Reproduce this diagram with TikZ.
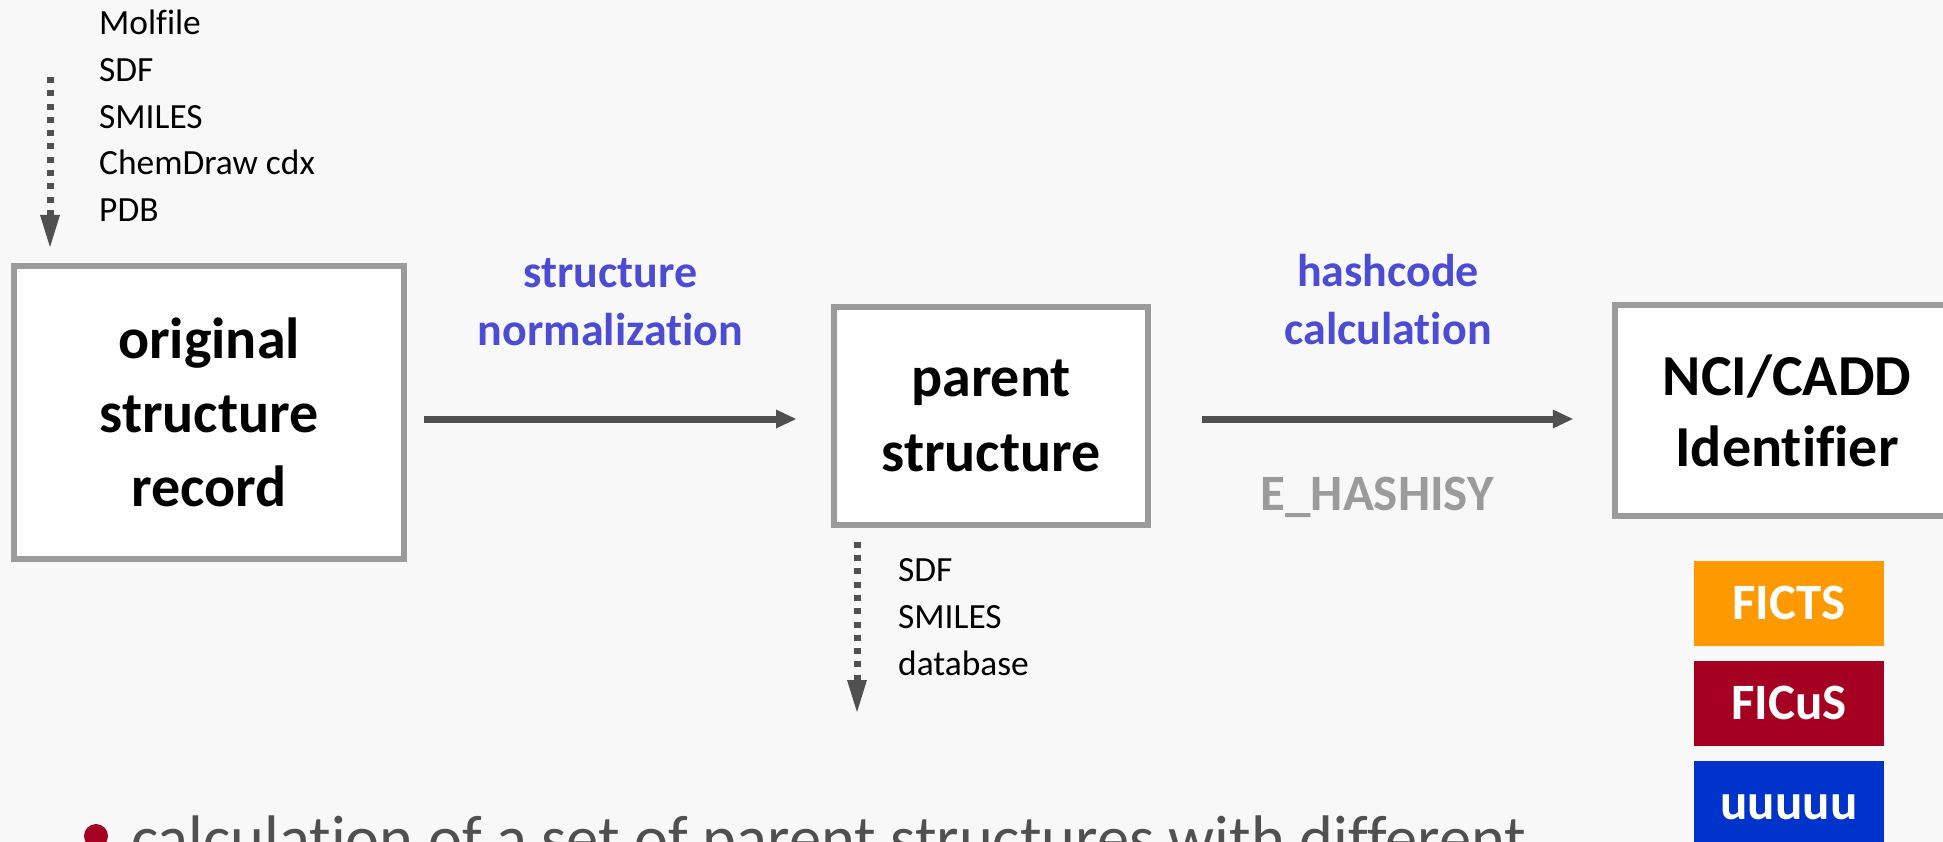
\documentclass[tikz,border=0pt]{standalone}
\usepackage{fontspec}
\setmainfont{Carlito}[Ligatures={NoCommon}]
\usetikzlibrary{arrows.meta}

\definecolor{pagebg}{RGB}{248,248,248}
\definecolor{boxgray}{RGB}{155,155,155}
\definecolor{arrowgray}{RGB}{80,80,80}
\definecolor{labelblue}{RGB}{75,75,212}
\definecolor{tagorange}{RGB}{255,153,0}
\definecolor{tagred}{RGB}{165,0,33}
\definecolor{tagblue}{RGB}{0,51,204}
\definecolor{bodygray}{RGB}{80,80,80}

\tikzset{
  stagebox/.style={draw=boxgray, line width=6pt, fill=white, outer sep=0pt,
    inner sep=0pt, align=center, text=black,
    font=\bfseries\fontsize{58}{74}\selectfont},
  steplabel/.style={inner sep=0pt, align=center, text=labelblue,
    font=\bfseries\fontsize{46}{58}\selectfont},
  fmtlist/.style={inner sep=0pt, align=left, text=black,
    font=\fontsize{35.4}{46.8}\selectfont},
  tag/.style={minimum width=190pt, minimum height=84.5pt, inner sep=0pt,
    text=white, font=\bfseries\fontsize{51}{60}\selectfont,
    text height=32pt, text depth=0pt},
  flow/.style={draw=arrowgray, line width=7pt,
    -{Triangle[length=20pt,width=19pt,line width=0pt]}},
  dotarrow/.style={draw=arrowgray, line width=7pt,
    dash pattern=on 6pt off 7.3pt,
    -{Triangle[length=32pt,width=20pt,line width=0pt]}}
}

\begin{document}
\begin{tikzpicture}[x=1pt, y=-1pt]
\useasboundingbox (0,0) rectangle (1943,842);
\clip (0,0) rectangle (1943,842);
\fill[pagebg] (0,0) rectangle (1943,842);

% pipeline stages
\node[stagebox, minimum width=390pt, minimum height=293pt] (orig) at (209,412.5)
  {original\\structure\\record};
\node[stagebox, minimum width=314pt, minimum height=217.4pt,
  font=\bfseries\fontsize{58}{75}\selectfont] (parent) at (991,416)
  {parent\\structure};
\node[stagebox, minimum width=345pt, minimum height=211.2pt,
  font=\bfseries\fontsize{58}{70.5}\selectfont] (nci) at (1787,410.8)
  {NCI/CADD\\Identifier};

% processing steps between the stages
\draw[flow] ([shift={(20,6.5)}]orig.east) -- ([shift={(-38,3)}]parent.west);
\draw[flow] ([shift={(54,3)}]parent.east) -- ([shift={(-41.7,8.2)}]nci.west);

\node[steplabel, anchor=south] (normLbl) at (610.5,346) {structure\\normalization};
\node[steplabel, anchor=south] (hashLbl) at (1388,345) {hashcode\\calculation};
\node[inner sep=0pt, anchor=base, text=boxgray,
  font=\bfseries\fontsize{51}{60}\selectfont] (algo) at (1377,510.7) {E\_HASHISY};

% input formats
\coordinate (inStart) at (50,77);
\draw[dotarrow, shorten >=19pt] (inStart) -- (inStart |- orig.north);
\node[fmtlist, anchor=south west] (inFmt) at (99,222)
  {Molfile\\SDF\\SMILES\\ChemDraw cdx\\PDB};

% output formats
\coordinate (outEnd) at (857,712);
\draw[dotarrow, shorten <=17pt] (outEnd |- parent.south) -- (outEnd);
\node[fmtlist, anchor=south west] (outFmt) at (898,675.7)
  {SDF\\SMILES\\database};

% identifier flavours
\node[tag, fill=tagorange] (ficts) at (1789,603.5) {FICTS};
\node[tag, fill=tagred] (ficus) at (1789,703.5) {FICuS};
\node[tag, fill=tagblue] (uuuuu) at (1789,803.5) {uuuuu};

% bullet line
\node[circle, fill=tagred, minimum size=24pt, inner sep=0pt] (dot) at (96,836) {};
\node[anchor=base west, inner sep=0pt, text=bodygray,
  font=\fontsize{64.4}{77}\selectfont] (bulletText) at (131,860)
  {calculation of a set of parent structures with different};
\end{tikzpicture}
\end{document}
